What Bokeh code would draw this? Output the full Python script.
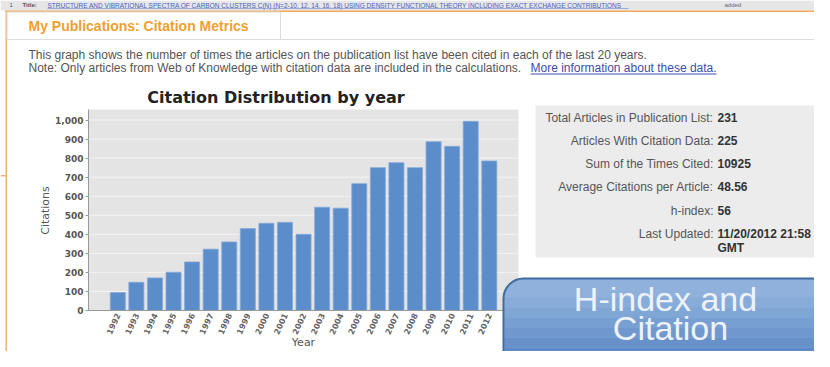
import math
from bokeh.plotting import figure
from bokeh.models import (Label, BoxAnnotation, FixedTicker, NumeralTickFormatter,
                          Range1d, LinearAxis)
from bokeh.embed import file_html
from bokeh.resources import INLINE

# ---------------- data ----------------
years = ["1992", "1993", "1994", "1995", "1996", "1997", "1998", "1999", "2000", "2001", "2002",
         "2003", "2004", "2005", "2006", "2007", "2008", "2009", "2010", "2011", "2012"]
citations = [94, 148, 171, 201, 255, 322, 360, 430, 458, 463, 400,
             542, 537, 666, 750, 776, 750, 886, 862, 993, 785]
y_ticks = [0, 100, 200, 300, 400, 500, 600, 700, 800, 900, 1000]
y_top = 1055

chart_title = "Citation Distribution by year"
y_label = "Citations"
x_label = "Year"

stat_names = ["Total Articles in Publication List:", "Articles With Citation Data:",
              "Sum of the Times Cited:", "Average Citations per Article:", "h-index:", "Last Updated:"]
stat_values = ["231", "225", "10925", "48.56", "56", "11/20/2012 21:58"]
stat_value_cont = "GMT"

top_row_num = "1"
top_row_field = "Title:"
top_row_title = ("STRUCTURE AND VIBRATIONAL SPECTRA OF CARBON CLUSTERS C(N) (N=2-10, 12, 14, 16, 18) "
                 "USING DENSITY FUNCTIONAL THEORY INCLUDING EXACT EXCHANGE CONTRIBUTIONS")
top_row_extra = "added"

header_text = "My Publications: Citation Metrics"
intro_line = ("This graph shows the number of times the articles on the publication list "
              "have been cited in each of the last 20 years.")
note_line = ("Note: Only articles from Web of Knowledge with citation data are included "
             "in the calculations.")
link_text = "More information about these data."
overlay_lines = ["H-index and", "Citation"]

# ---------------- layout constants ----------------
W, H = 814, 351
OX, OY = 0, 0
PX_PER_CAT = 18.575      # pixels between bars
FIRST_CAT_X = 117.3      # x of first bar centre
PX_PER_UNIT = 0.1905     # pixels per citation
ZERO_Y = 310             # y of the zero line
PLOT_LEFT, PLOT_RIGHT = 88, 518

pos = list(range(len(years)))


def xdata(X):
    return (X - FIRST_CAT_X) / PX_PER_CAT


def ydata(Y):
    return (ZERO_Y - Y) / PX_PER_UNIT


x_lo, x_hi = xdata(PLOT_LEFT), xdata(PLOT_RIGHT)

p = figure(width=W, height=H,
           x_range=Range1d(xdata(OX), xdata(OX + W)),
           y_range=Range1d(ydata(OY + H), ydata(OY)),
           x_axis_type=None, y_axis_type=None,
           output_backend="svg", toolbar_location=None,
           min_border=0)
p.background_fill_color = "white"
p.border_fill_color = "white"
p.outline_line_color = None
p.xgrid.visible = False
p.ygrid.visible = False


def sx(X):
    return X - OX


def sy(Y):
    return OY + H - Y


# plot area background + grid lines
p.add_layout(BoxAnnotation(left=x_lo, right=x_hi, bottom=0, top=y_top,
                           fill_color="#e4e4e4", fill_alpha=1, line_alpha=0,
                           level="underlay"))
p.segment(x0=[x_lo] * len(y_ticks[1:]), x1=[x_hi] * len(y_ticks[1:]),
          y0=y_ticks[1:], y1=y_ticks[1:], line_color="#f4f4f4", line_width=1)

p.vbar(x=pos, top=citations, width=0.81, fill_color="#5b8dcb",
       line_color="#86aadb", line_width=0.8)

# y axis (fixed at the left edge of the plot area)
yaxis = LinearAxis(fixed_location=x_lo, bounds=(0, y_top),
                   ticker=FixedTicker(ticks=y_ticks),
                   formatter=NumeralTickFormatter(format="0,0"))
yaxis.major_label_text_font = "DejaVu Sans"
yaxis.major_label_text_font_size = "9px"
yaxis.major_label_text_font_style = "bold"
yaxis.major_label_text_color = "#555555"
yaxis.major_label_standoff = 2
yaxis.major_tick_out = 3
yaxis.major_tick_in = 0
yaxis.minor_tick_line_color = None
yaxis.axis_line_color = "#999999"
yaxis.major_tick_line_color = "#999999"
p.add_layout(yaxis, "left")

# x axis (fixed at zero)
xaxis = LinearAxis(fixed_location=0, bounds=(x_lo, x_hi),
                   ticker=FixedTicker(ticks=pos),
                   major_label_overrides={i: s for i, s in zip(pos, years)})
xaxis.major_label_orientation = 1.13
xaxis.major_label_text_font = "DejaVu Sans"
xaxis.major_label_text_font_size = "8px"
xaxis.major_label_text_font_style = "bold"
xaxis.major_label_text_color = "#666666"
xaxis.major_label_standoff = 3
xaxis.major_tick_out = 0
xaxis.major_tick_in = 0
xaxis.minor_tick_line_color = None
xaxis.axis_line_color = "#999999"
p.add_layout(xaxis, "below")


def box(left, right, top, bottom, fill, line=None, lw=1, radius=0):
    b = BoxAnnotation(left=sx(left), right=sx(right), top=sy(top), bottom=sy(bottom),
                      left_units="screen", right_units="screen",
                      top_units="screen", bottom_units="screen",
                      fill_color=fill, fill_alpha=1 if fill else 0,
                      line_color=line, line_alpha=1 if line else 0, line_width=lw,
                      border_radius=radius)
    p.add_layout(b)
    return b


def text(x, y, s, size, color, font="Liberation Sans", style="normal",
         align="left", baseline="middle", angle=0):
    lab = Label(x=sx(x), y=sy(y), x_units="screen", y_units="screen", text=s,
                text_font=font, text_font_size=size, text_color=color,
                text_font_style=style, text_align=align, text_baseline=baseline,
                angle=angle)
    p.add_layout(lab)
    return lab


# axis titles and chart title
text(45, 210, y_label, "11px", "#555555", font="DejaVu Sans", align="center", angle=math.pi / 2)
text(303, 342, x_label, "11px", "#555555", font="DejaVu Sans", align="center")
text(275.5, 97, chart_title, "16px", "#222222", font="DejaVu Sans", style="bold",
     align="center")

# top strip (previous table row)
box(0, 840, 0, 10, "#e6e6e6")
text(9, 4.5, top_row_num, "6px", "#555555")
text(22, 4.5, top_row_field, "6px", "#555555", style="bold")
text(47, 4.5, top_row_title, "6.5px", "#4a5fc0")
box(47, 628, 7.6, 8.3, "#8594d2")
text(724, 4.5, top_row_extra, "6px", "#666666")

# publication panel frame
box(5, 840, 10, 11.5, "#f0a858")
box(5, 6.5, 10, 380, "#f0b070")
box(0, 5, 174.5, 176, "#f0b070")
box(6.5, 280, 11.5, 39, "#ffffff", "#dcdcdc", 1)
box(6.5, 840, 38.5, 39.5, "#dddddd")

text(28, 25, header_text, "14px", "#f0a030", style="bold")
text(28, 54, intro_line, "12px", "#555555")
text(28, 67, note_line, "12px", "#555555")
text(530, 67, link_text, "12px", "#3a4fa8")
box(530, 716, 73, 74, "#3a4fa8")

# stats panel
box(535, 817, 105, 257, "#ececec")
row_y = [117, 140, 163, 186, 210, 233]
for yy, nm, vv in zip(row_y, stat_names, stat_values):
    text(713, yy, nm, "12px", "#555555", align="right")
    text(717, yy, vv, "12px", "#333333", style="bold")
text(717, 247, stat_value_cont, "12px", "#333333", style="bold")

# overlay callout
box(503, 845, 278, 380, "#8fb1dc", radius=20)
band_edges = [297, 307, 317, 327, 337, 347, 357, 380]
band_colors = ["#88acd9", "#80a6d6", "#789fd2", "#7098ce", "#6891ca", "#608ac6", "#5883c2"]
for i, c in enumerate(band_colors):
    box(504, 845, band_edges[i], band_edges[i + 1], c)
box(503, 845, 278, 380, None, "#3f6b9f", 2, radius=20)

text(665, 298, overlay_lines[0], "34px", "#eef3fa", align="center")
text(670, 327, overlay_lines[1], "34px", "#eef3fa", align="center")

open("out.html", "w").write(file_html(p, INLINE))
